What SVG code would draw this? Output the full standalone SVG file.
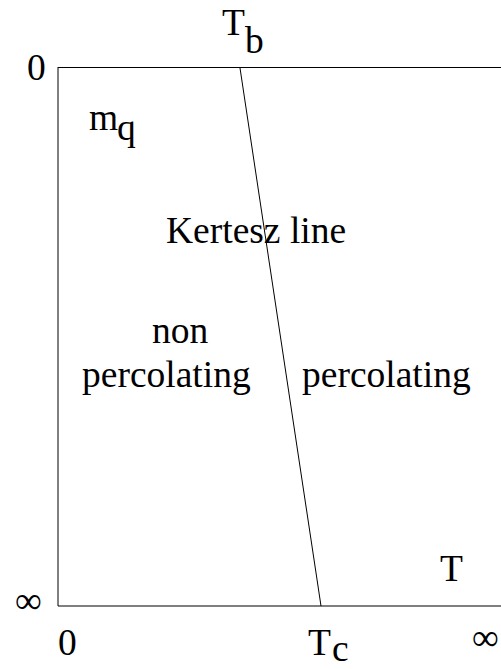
<svg xmlns="http://www.w3.org/2000/svg" width="501" height="669" viewBox="0 0 501 669">
<style>
.t{font-family:"Liberation Serif","Times New Roman",serif;font-size:37.5px;fill:#000}
.ax{stroke:#000;stroke-width:1;fill:none}
</style>
<rect width="501" height="669" fill="#fff"/>
<g id="axes">
<line class="ax" x1="58" y1="67.5" x2="501" y2="67.5" stroke-width="1.6"/>
<line class="ax" x1="58" y1="67" x2="58" y2="606"/>
<line class="ax" x1="58" y1="606" x2="501" y2="606"/>
</g>
<g id="connectors">
<line class="ax" x1="240" y1="68" x2="321" y2="606"/>
</g>
<g id="labels">
<text class="t" x="27" y="80">0</text>
<g id="Tb"><text class="t" x="222" y="35">T</text><text class="t" x="245" y="53">b</text></g>
<g id="mq"><text class="t" x="89" y="130">m</text><text class="t" x="117" y="140">q</text></g>
<text id="kertesz" class="t" x="166" y="243">Kertesz line</text>
<text id="nonperc1" class="t" x="152" y="343">non</text>
<text id="nonperc2" class="t" x="82" y="387">percolating</text>
<text id="perc" class="t" x="302" y="387">percolating</text>
<text id="T" class="t" x="440" y="581">T</text>
<text class="t" x="15" y="613">∞</text>
<text class="t" x="58" y="655">0</text>
<g id="Tc"><text class="t" x="308" y="655">T</text><text class="t" x="332" y="661">c</text></g>
<text class="t" x="472" y="650">∞</text>
</g>
</svg>
